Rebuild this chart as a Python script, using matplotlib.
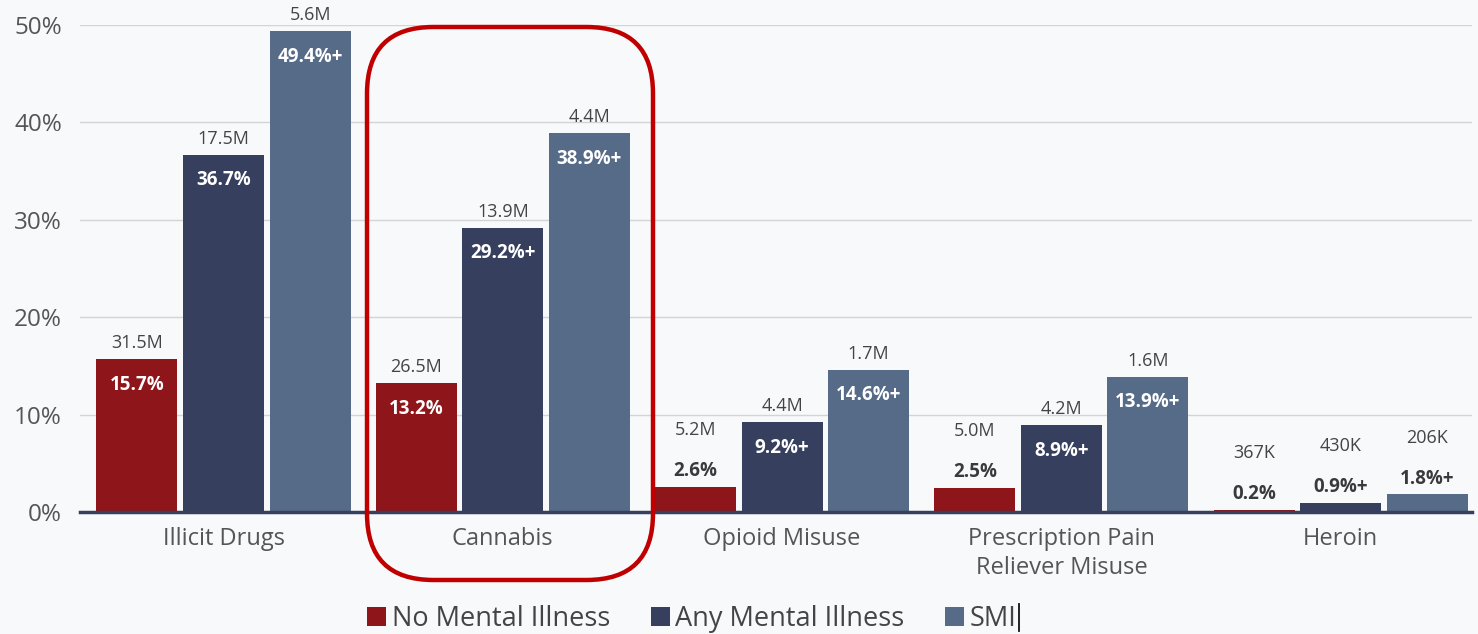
import matplotlib.pyplot as plt
from matplotlib.patches import FancyBboxPatch, Patch
from matplotlib.lines import Line2D
import numpy as np

plt.rcParams['font.family'] = ['Open Sans', 'DejaVu Sans']

# prevalence of past-year substance use by mental illness status
categories = ['Illicit Drugs', 'Cannabis', 'Opioid Misuse',
              'Prescription Pain\nReliever Misuse', 'Heroin']
groups = ['No Mental Illness', 'Any Mental Illness', 'SMI']
pct_none = [15.7, 13.2, 2.6, 2.5, 0.2]
pct_ami = [36.7, 29.2, 9.2, 8.9, 0.9]
pct_smi = [49.4, 38.9, 14.6, 13.9, 1.8]
counts_none = ['31.5M', '26.5M', '5.2M', '5.0M', '367K']
counts_ami = ['17.5M', '13.9M', '4.4M', '4.2M', '430K']
counts_smi = ['5.6M', '4.4M', '1.7M', '1.6M', '206K']
flag_none = ['', '', '', '', '']
flag_ami = ['', '+', '+', '+', '+']
flag_smi = ['+', '+', '+', '+', '+']

colors = ['#8e1519', '#363f5d', '#566b88']
bg = '#f8f9fb'

fig = plt.figure(figsize=(14.78, 6.34), dpi=100, facecolor=bg)
ax = fig.add_axes([0.0541, 0.1924, 0.9418, 0.7682], facecolor=bg)

x = np.arange(len(categories))
step = 0.31
width = 0.29
series = [(pct_none, counts_none, flag_none),
          (pct_ami, counts_ami, flag_ami),
          (pct_smi, counts_smi, flag_smi)]

for k, (vals, cnts, flags) in enumerate(series):
    xs = x + (k - 1) * step
    ax.bar(xs, vals, width=width, color=colors[k], zorder=2)
    for xi, v, c, f in zip(xs, vals, cnts, flags):
        lab = f'{v}%{f}'
        if v > 5:
            # percentage inside the bar, count just above it
            ax.annotate(lab, (xi, v), xytext=(0, -18.5), textcoords='offset points',
                        ha='center', va='center', fontsize=13.5, fontweight='bold',
                        color='white', zorder=3)
            ax.annotate(c, (xi, v), xytext=(0, 11.5), textcoords='offset points',
                        ha='center', va='center', fontsize=13, color='#444444')
        else:
            # short bars: both labels stacked above
            ax.annotate(lab, (xi, v), xytext=(0, 11.5), textcoords='offset points',
                        ha='center', va='center', fontsize=13.5, fontweight='bold',
                        color='#3a3a3a')
            ax.annotate(c, (xi, v), xytext=(0, 41), textcoords='offset points',
                        ha='center', va='center', fontsize=13, color='#444444')

ax.set_xlim(-0.514, 4.47)
ax.set_ylim(0, 50)
ax.set_yticks(range(0, 51, 10))
ax.set_yticklabels([f'{t}%' for t in range(0, 51, 10)], fontsize=17.5, color='#555555')
ax.set_xticks(x)
ax.set_xticklabels(categories, fontsize=17, color='#555555', linespacing=1.25)
ax.tick_params(axis='y', length=0, pad=13)
ax.tick_params(axis='x', length=0, pad=11)
ax.grid(axis='y', color='#d4d4d4', linewidth=1, zorder=0)
for s in ['top', 'right', 'left']:
    ax.spines[s].set_visible(False)
ax.spines['bottom'].set_color('#363f5d')
ax.spines['bottom'].set_linewidth(2.5)
ax.spines['bottom'].set_zorder(4)

# highlight box around the cannabis group
W, H = 1478, 634
box = FancyBboxPatch((367 / W, (H - 580) / H), (653 - 367) / W, (580 - 27) / H,
                     boxstyle='round,pad=0,rounding_size=0.045',
                     transform=fig.transFigure, fill=False,
                     edgecolor='#c00000', linewidth=3.2, mutation_aspect=W / H)
fig.patches.append(box)

handles = [Patch(facecolor=c, edgecolor='none') for c in colors]
leg = fig.legend(handles, groups, loc='center', bbox_to_anchor=(0.468, 0.024), ncol=3,
                 frameon=False, fontsize=19.5, handlelength=0.7, handleheight=0.7,
                 handletextpad=0.2, columnspacing=1.5, labelcolor='#444444')

# text cursor left after the last legend entry
fig.lines.append(Line2D([1019 / W, 1019 / W], [(H - 631) / H, (H - 604) / H],
                        transform=fig.transFigure, color='#111111', linewidth=1.3))

fig.savefig('out.png', dpi=100, facecolor=bg)
